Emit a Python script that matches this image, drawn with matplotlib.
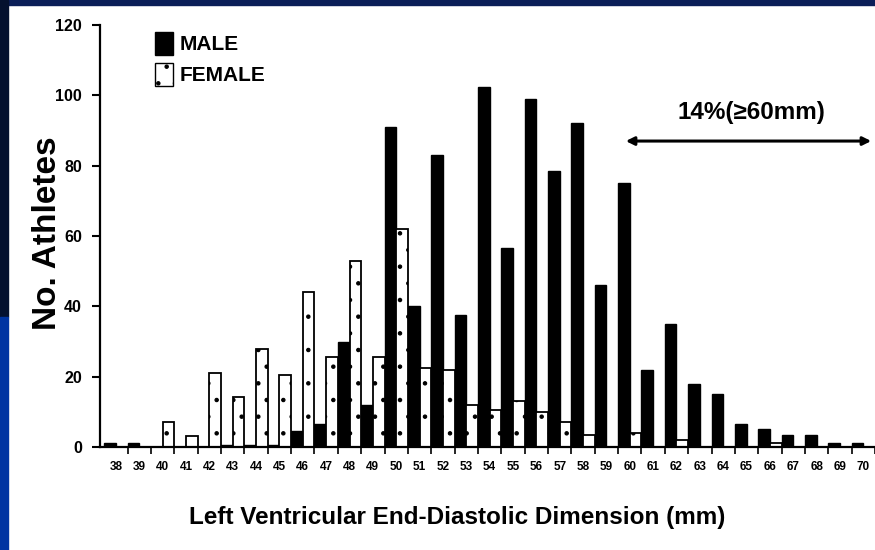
import numpy as np
import matplotlib
matplotlib.use("Agg")
import matplotlib.pyplot as plt
from matplotlib.patches import Rectangle, Patch

plt.rcParams['font.family'] = ['Liberation Sans', 'DejaVu Sans']
plt.rcParams['hatch.linewidth'] = 0.8

# LV end-diastolic dimension (mm) and athlete counts
dims = list(range(38, 71))
male = [1, 1, 0, 0, 0, 0.5, 0.5, 0.5, 4.5, 6.5, 30, 12, 91, 40, 83, 37.5, 102.5,
        56.5, 99, 78.5, 92, 46, 75, 22, 35, 18, 15, 6.5, 5, 3.5, 3.5, 1, 1]
female = [0, 0, 7, 3, 21, 14.3, 28, 20.5, 44, 25.5, 53, 25.5, 62, 22.5, 22, 12, 10.5,
          13, 10, 7, 3.5, 0, 4, 0, 2, 0, 0, 0, 1, 0, 0, 0, 0]
y_ticks = [0, 20, 40, 60, 80, 100, 120]
note = '14%(\u226560mm)'
note_from = 60

fig = plt.figure(figsize=(8.75, 5.5), dpi=100)
fig.patch.set_facecolor('white')

# slide border bands
fig.add_artist(Rectangle((0, 1 - 5 / 550), 1, 5 / 550, transform=fig.transFigure,
                         color='#0b1e58', zorder=0))
fig.add_artist(Rectangle((0, 233 / 550), 8 / 875, 317 / 550, transform=fig.transFigure,
                         color='#04112f', zorder=0))
fig.add_artist(Rectangle((0, 0), 8 / 875, 233 / 550, transform=fig.transFigure,
                         color='#0034a2', zorder=0))

ax = fig.add_axes([100 / 875, 103 / 550, 775 / 875, 422 / 550])
x = np.array(dims, dtype=float)

ax.bar(x - 0.5, male, width=0.5, align='edge', color='black', edgecolor='black',
       linewidth=1, label='MALE')
ax.bar(x, female, width=0.5, align='edge', color='white', edgecolor='black',
       linewidth=1.3, hatch='.', label='FEMALE')

ax.set_xlim(37.317, 70.337)
ax.set_ylim(0, 120)

for s in ['top', 'right']:
    ax.spines[s].set_visible(False)
ax.spines['left'].set_linewidth(1.6)
ax.spines['bottom'].set_linewidth(1.6)

ax.set_yticks(y_ticks)
ax.set_yticklabels([str(v) for v in y_ticks], fontsize=11.5, fontweight='bold')
ax.tick_params(axis='y', length=6, width=1.5, pad=7)

ax.set_xticks(x)
ax.set_xticklabels([str(d) for d in dims], fontsize=8.5, fontweight='bold')
ax.set_xticks(x + 0.5, minor=True)
ax.tick_params(axis='x', which='major', length=0, pad=10)
ax.tick_params(axis='x', which='minor', length=5, width=1.2)

ax.set_ylabel('No. Athletes', fontsize=24, fontweight='bold', va='center')
ax.yaxis.set_label_coords(-0.068, 0.507)
ax.set_xlabel('Left Ventricular End-Diastolic Dimension (mm)', fontsize=17.5,
              fontweight='bold', va='center')
ax.xaxis.set_label_coords(0.461, -0.166)

handles = [Patch(facecolor='black', edgecolor='black'),
           Patch(facecolor='white', edgecolor='black', hatch='.')]
ax.legend(handles, ['MALE', 'FEMALE'], loc='upper left', bbox_to_anchor=(0.057, 1.008),
          frameon=False, borderpad=0, handlelength=0.9, handleheight=1.3,
          handletextpad=0.3, labelspacing=0.4,
          prop={'size': 15, 'weight': 'bold'})

ax.annotate('', xy=(70.337, 87), xytext=(note_from - 0.17, 87),
            arrowprops=dict(arrowstyle='<|-|>', lw=2.2, color='black', mutation_scale=12,
                            shrinkA=0, shrinkB=0),
            annotation_clip=False)
ax.text(65.2, 95, note, ha='center', va='center', fontsize=17.5, fontweight='bold')

fig.savefig('out.png', dpi=100)
